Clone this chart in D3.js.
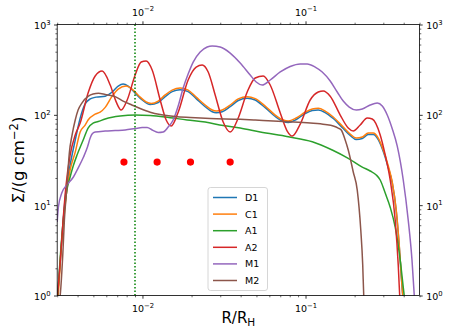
<!DOCTYPE html>
<html>
<head>
<meta charset="utf-8">
<script src="https://cdn.jsdelivr.net/npm/d3@7.9.0/dist/d3.min.js"></script>
<style>
  html, body { margin: 0; padding: 0; background: #fff; }
  svg { display: block; font-family: "DejaVu Sans", sans-serif; }
</style>
</head>
<body>
<div id="chart"></div>
<script>
// series values: [R/R_H, Sigma]
const D1 = [[0.0030,0.85],[0.00302,1.0],[0.00313,2.34],[0.00326,6.5],[0.00340,14.7],[0.00360,27.8],[0.00387,52.6],[0.00415,92],[0.00445,132],[0.00478,150],[0.00520,157],[0.00591,161],[0.00652,179],[0.00710,208],[0.00761,219],[0.00817,208],[0.00902,174],[0.00996,146],[0.01115,130],[0.01249,137],[0.01378,159],[0.01521,181],[0.01703,190],[0.01906,181],[0.02135,151],[0.02424,123],[0.02677,108],[0.02833,105.5],[0.03084,108],[0.03451,123],[0.03866,144],[0.04389,153],[0.04913,146],[0.05658,120],[0.06518,95.8],[0.0730,84.3],[0.0783,82.1],[0.0877,88.7],[0.0995,103.5],[0.1100,111.5],[0.1197,113],[0.1320,106],[0.1479,91],[0.1703,70.5],[0.1879,59],[0.2046,53.2],[0.2228,54.7],[0.2425,60.5],[0.2602,60.5],[0.2793,53.2],[0.2997,39.3],[0.3217,26],[0.3403,17.6],[0.3600,8.6],[0.3756,3.5],[0.3864,1.65],[0.3947,1.0],[0.4031,0.7]];

const C1 = [[0.0030,0.85],[0.00304,1.0],[0.00317,3.2],[0.00331,7.76],[0.00345,15.5],[0.00360,24.5],[0.00387,38.7],[0.00415,64.5],[0.00445,77],[0.00464,87.6],[0.00513,102],[0.00550,107],[0.00591,121],[0.00652,161],[0.00710,193],[0.00794,208],[0.00877,188],[0.00968,157],[0.01053,139],[0.01131,133.5],[0.01249,142],[0.01378,166],[0.01521,188],[0.01703,198],[0.01906,188],[0.02135,157],[0.02424,128.5],[0.02677,113],[0.02833,110],[0.03084,113],[0.03451,128.5],[0.03866,150],[0.04389,159],[0.04913,151],[0.05658,125],[0.06518,99.5],[0.0730,87.6],[0.0783,85.4],[0.0877,92.2],[0.0995,107],[0.1100,116],[0.1197,118],[0.1320,110],[0.1479,94.6],[0.1703,73.3],[0.1879,61.3],[0.2046,55.3],[0.2228,56.8],[0.2425,62.9],[0.2602,62.9],[0.2793,55.3],[0.2997,40.8],[0.3217,27.1],[0.3403,18.0],[0.3600,8.8],[0.3756,3.6],[0.3864,1.68],[0.3947,1.0],[0.4031,0.7]];

const A1 = [[0.0030,0.85],[0.00302,1.0],[0.00313,2.6],[0.00326,6.5],[0.00344,14.7],[0.00360,20.5],[0.00376,27.1],[0.00397,35.9],[0.00433,52.6],[0.00464,71.4],[0.00498,81.1],[0.00535,84.3],[0.00591,89.9],[0.00652,93.9],[0.00730,97],[0.00902,99.5],[0.01115,98.2],[0.01378,94.6],[0.01880,87.6],[0.02424,83.2],[0.03126,76],[0.03975,71.4],[0.05273,64.5],[0.0783,57.2],[0.1100,50.4],[0.1458,40.8],[0.1828,33.0],[0.2228,26.4],[0.2492,23.9],[0.2715,21.6],[0.2871,19.0],[0.3081,13.6],[0.3306,9.5],[0.3548,5.7],[0.3808,2.47],[0.4031,1.0],[0.4150,0.7]];

const A2 = [[0.0030,0.9],[0.00313,2.34],[0.00326,6.8],[0.00340,16.7],[0.00360,35.9],[0.00387,59.8],[0.00415,81.1],[0.00464,174],[0.00513,269],[0.00566,305],[0.00634,214],[0.00690,139],[0.00740,113],[0.00806,146],[0.00902,276],[0.00982,384],[0.01053,394],[0.01147,313],[0.01284,146],[0.01398,87.6],[0.01500,75.2],[0.01656,107],[0.01906,243],[0.02135,338],[0.02324,356],[0.02530,298],[0.02792,166],[0.03126,83.2],[0.03451,64.5],[0.03866,92.2],[0.04389,179],[0.04913,256],[0.05503,269],[0.06072,214],[0.0700,105],[0.0772,66.2],[0.0829,58.2],[0.0928,79.1],[0.1068,146],[0.1197,179],[0.1284,184],[0.1417,161],[0.1632,99.5],[0.1828,71.4],[0.1962,66.2],[0.2164,77.1],[0.2390,92.2],[0.2566,89.9],[0.2871,59.8],[0.3081,35.9],[0.3306,19.0],[0.3548,6.8],[0.3704,2.17],[0.3780,1.0],[0.3864,0.6]];

const M1 = [[0.0030,6.5],[0.00305,9.5],[0.00320,13.6],[0.00344,16.7],[0.00377,20.5],[0.00403,25.7],[0.00435,34.1],[0.00460,44.0],[0.00478,55.3],[0.00491,61.3],[0.00513,64.5],[0.00591,66.2],[0.00680,67],[0.00783,67.9],[0.00902,70.5],[0.00996,72.3],[0.01069,72.3],[0.01147,67.9],[0.01249,63.7],[0.01340,64.5],[0.01438,73.3],[0.01543,87.6],[0.01656,125],[0.01777,198],[0.01906,283],[0.02047,384],[0.02259,496],[0.02494,563],[0.02677,578],[0.02996,563],[0.03451,483],[0.03975,375],[0.04578,276],[0.04983,231],[0.05424,214],[0.06072,243],[0.0700,298],[0.0805,343],[0.0928,366],[0.1024,366],[0.1146,338],[0.1266,298],[0.1417,237],[0.1565,179],[0.1703,142],[0.1854,122],[0.2046,113],[0.2228,116],[0.2492,128.5],[0.2754,135],[0.2955,125],[0.3171,99.5],[0.3403,70],[0.3652,45],[0.3975,19.0],[0.4266,6.8],[0.4497,2.47],[0.4644,1.0],[0.4750,0.6]];

const M2 = [[0.00308,0.78],[0.00313,1.0],[0.00325,2.95],[0.00332,6.8],[0.00344,15.9],[0.00356,37.8],[0.00370,59.8],[0.00387,87.6],[0.00403,113],[0.00425,135],[0.00466,161],[0.00498,170],[0.00537,173],[0.00591,168],[0.00680,159],[0.00761,142],[0.00861,128.5],[0.00968,117.4],[0.01115,107],[0.01284,100.8],[0.01587,95.8],[0.01962,93.4],[0.02602,91],[0.03975,89.2],[0.04913,87.6],[0.0783,84],[0.1068,81.1],[0.1320,78.1],[0.1479,75.2],[0.1587,71.4],[0.1656,67.9],[0.1751,52.6],[0.1828,40.8],[0.1962,23.3],[0.2076,14.7],[0.2182,5.3],[0.2243,2.17],[0.2275,1.0],[0.2307,0.7]];

const seriesNames = ["D1", "C1", "A1", "A2", "M1", "M2"];
const seriesData = [D1, C1, A1, A2, M1, M2];
const seriesColors = ["#1f77b4", "#ff7f0e", "#2ca02c", "#d62728", "#9467bd", "#8c564b"];

// red markers and the dotted vertical line
const markerR = [0.0077, 0.0123, 0.0197, 0.0345];
const markerSigma = 30;
const vlineR = 0.009;

const xDomain = [0.003, 0.5];
const yDomain = [1, 1000];
const xMajor = [0.01, 0.1];
const yMajor = [1, 10, 100, 1000];

const width = 452;
const height = 335;
const margin = { top: 24.5, right: 32.5, bottom: 39.5, left: 57.2 };
const plot = {
  left: margin.left,
  right: width - margin.right,
  top: margin.top,
  bottom: height - margin.bottom,
};

const svg = d3.select("#chart")
  .append("svg")
  .attr("width", width)
  .attr("height", height);

const x = d3.scaleLog().domain(xDomain).range([plot.left, plot.right]);
const y = d3.scaleLog().domain(yDomain).range([plot.bottom, plot.top]);

svg.append("clipPath")
  .attr("id", "clip")
  .append("rect")
  .attr("x", plot.left)
  .attr("y", plot.top)
  .attr("width", plot.right - plot.left)
  .attr("height", plot.bottom - plot.top);

const plotArea = svg.append("g").attr("clip-path", "url(#clip)");

const line = d3.line()
  .x((d) => x(d[0]))
  .y((d) => y(d[1]))
  .curve(d3.curveMonotoneX);

seriesData.forEach((data, i) => {
  plotArea.append("path")
    .datum(data)
    .attr("fill", "none")
    .attr("stroke", seriesColors[i])
    .attr("stroke-width", 1.5)
    .attr("stroke-linejoin", "round")
    .attr("d", line);
});

plotArea.append("line")
  .attr("x1", x(vlineR))
  .attr("x2", x(vlineR))
  .attr("y1", plot.top)
  .attr("y2", plot.bottom)
  .attr("stroke", "#008000")
  .attr("stroke-width", 1.5)
  .attr("stroke-dasharray", "1.5,2");

plotArea.selectAll("circle.marker")
  .data(markerR)
  .join("circle")
  .attr("class", "marker")
  .attr("cx", (d) => x(d))
  .attr("cy", y(markerSigma))
  .attr("r", 3.6)
  .attr("fill", "#ff0000");

// axes: minor ticks from the scale, majors labelled as powers of ten
function powerLabels(g, dy) {
  g.selectAll(".tick text").text(null).attr("dy", null).each(function (d) {
    const t = d3.select(this);
    const e = Math.round(Math.log10(d));
    t.attr("dy", dy);
    t.append("tspan").text("10");
    t.append("tspan")
      .attr("dy", -4.2)
      .attr("font-size", "6.8px")
      .text(e < 0 ? "\u2212" + -e : String(e));
  });
}

function styleAxis(g) {
  g.select(".domain").remove();
  g.selectAll(".tick line").attr("stroke", "#000");
  g.selectAll(".tick text")
    .attr("fill", "#000")
    .attr("font-size", "9.5px")
    .attr("font-family", "DejaVu Sans, sans-serif");
}

const xMinor = x.ticks().filter((d) => !xMajor.some((m) => Math.abs(m - d) < 1e-9));
const yMinor = y.ticks().filter((d) => !yMajor.some((m) => Math.abs(m - d) < 1e-9));

function addAxes(makeAxis, scale, minor, major, transform, labelDy, labelOffset) {
  const gMinor = svg.append("g").attr("transform", transform)
    .call(makeAxis(scale).tickValues(minor).tickSize(1.8).tickSizeOuter(0).tickFormat(""));
  styleAxis(gMinor);
  gMinor.selectAll(".tick line").attr("stroke-width", 0.6);

  const gMajor = svg.append("g").attr("transform", transform)
    .call(makeAxis(scale).tickValues(major).tickSize(3.2).tickSizeOuter(0).tickPadding(3.5));
  styleAxis(gMajor);
  gMajor.selectAll(".tick line").attr("stroke-width", 0.8);
  powerLabels(gMajor, labelDy);
  if (labelOffset) labelOffset(gMajor);
}

addAxes(d3.axisBottom, x, xMinor, xMajor, `translate(0,${plot.bottom})`, 0,
  (g) => g.selectAll(".tick text").attr("y", 16.5));
addAxes(d3.axisTop, x, xMinor, xMajor, `translate(0,${plot.top})`, 0,
  (g) => g.selectAll(".tick text").attr("y", -9));
addAxes(d3.axisLeft, y, yMinor, yMajor, `translate(${plot.left},0)`, "0.42em");
addAxes(d3.axisRight, y, yMinor, yMajor, `translate(${plot.right},0)`, "0.42em");

// frame
svg.append("rect")
  .attr("x", plot.left)
  .attr("y", plot.top)
  .attr("width", plot.right - plot.left)
  .attr("height", plot.bottom - plot.top)
  .attr("fill", "none")
  .attr("stroke", "#000")
  .attr("stroke-width", 0.8);

// axis titles
const xLabel = svg.append("text")
  .attr("x", (plot.left + plot.right) / 2)
  .attr("y", 323)
  .attr("text-anchor", "middle")
  .attr("font-size", "15px")
  .attr("fill", "#000");
xLabel.append("tspan").text("R/R");
xLabel.append("tspan").attr("dy", 3).attr("font-size", "10.5px").text("H");

const yLabel = svg.append("text")
  .attr("transform", `translate(24,${(plot.top + plot.bottom) / 2}) rotate(-90)`)
  .attr("text-anchor", "middle")
  .attr("font-size", "16.5px")
  .attr("fill", "#000");
yLabel.append("tspan").text("\u03a3/(g cm");
yLabel.append("tspan").attr("dy", -6).attr("font-size", "11.5px").text("\u22122");
yLabel.append("tspan").attr("dy", 6).text(")");

// legend
const legend = svg.append("g").attr("transform", "translate(208,187.5)");
legend.append("rect")
  .attr("width", 59.5)
  .attr("height", 103)
  .attr("rx", 2.5)
  .attr("fill", "#fff")
  .attr("fill-opacity", 0.8)
  .attr("stroke", "#cccccc")
  .attr("stroke-width", 0.8);

const items = legend.selectAll("g.item")
  .data(seriesNames)
  .join("g")
  .attr("class", "item")
  .attr("transform", (d, i) => `translate(0,${10 + i * 16.6})`);

items.append("line")
  .attr("x1", 5)
  .attr("x2", 29)
  .attr("stroke", (d, i) => seriesColors[i])
  .attr("stroke-width", 1.5);

items.append("text")
  .attr("x", 37)
  .attr("dy", "0.36em")
  .attr("font-size", "9.5px")
  .attr("fill", "#000")
  .text((d) => d);
</script>
</body>
</html>
